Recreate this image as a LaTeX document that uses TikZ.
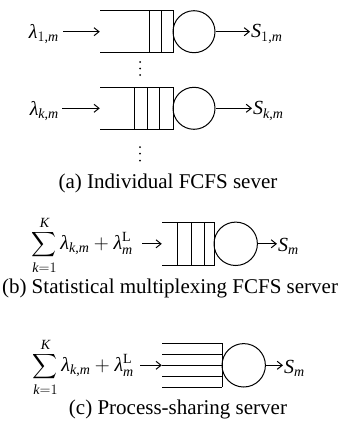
\documentclass[tikz,border=0pt]{standalone}
\usepackage{exscale}
\usepackage{fontspec}
\setmainfont{Liberation Serif}[NFSSFamily=libser]
\DeclareSymbolFont{tlet}{TU}{libser}{m}{it}
\DeclareSymbolFont{tup}{TU}{libser}{m}{n}
\DeclareMathAlphabet{\mathup}{TU}{libser}{m}{n}
\Umathcode`S=7 \symtlet `S\relax
\Umathcode`K=7 \symtlet `K\relax
\Umathcode`k=7 \symtlet `k\relax
\Umathcode`m=7 \symtlet `m\relax
\Umathcode`1=0 \symtup `1\relax
\Umathcode`,=6 \symtup `,\relax
\Umathcode`+=2 \symtup `+\relax
\Umathcode`\==3 \symtup `\=\relax
\Umathchardef\glam=0 \symtlet "03BB\relax
\newcommand\mysmallsum{\mathop{\hbox{\fontsize{17}{20}\selectfont$\displaystyle\sum$}}\limits}
\usetikzlibrary{arrows.meta}
\begin{document}
\begin{tikzpicture}[x=1pt,y=-1pt,
  ln/.style={line width=1pt},
  arr/.style={line width=1pt,-{Straight Barb[length=5pt,width=8pt]}},
  srv/.style={circle,draw,line width=1pt,inner sep=0pt,minimum size=#1},
  qbox/.style={inner sep=0pt,minimum width=#1},
  lbl/.style={inner sep=1pt,font=\fontsize{20}{24}\selectfont},
  captext/.style={inner sep=0pt,font=\fontsize{21}{25}\selectfont}]
\useasboundingbox (0,0) rectangle (344,423);
% ---- (a) first queue
\node[qbox=73pt,minimum height=42pt] (q1) at (136.5,31.7) {};
\draw[ln] (100,10.7) -- (173,10.7) -- (173,52.7) -- (100,52.7);
\draw[ln] (149,10.7) -- (149,52.7) (161,10.7) -- (161,52.7);
\node[srv=42pt] (c1) at (194,31.7) {};
\node[lbl,anchor=east] (l1) at (60,34) {$\glam_{1,m}$};
\node[lbl,anchor=west] (s1) at (250,34) {$S_{1,m}$};
\draw[arr] (l1.east |- q1) ++(3,0) -- (q1.west);
\draw[arr] (c1.east) -- (s1.west |- c1);
% dots
\foreach \y in {62,68.5,75} \fill (140,\y) circle (1pt);
% ---- (a) second queue
\node[qbox=73pt,minimum height=42pt] (q2) at (136.5,108.3) {};
\draw[ln] (100,87.3) -- (173,87.3) -- (173,129.3) -- (100,129.3);
\draw[ln] (134,87.3) -- (134,129.3) (147,87.3) -- (147,129.3) (159.5,87.3) -- (159.5,129.3);
\node[srv=42pt] (c2) at (194,108.3) {};
\node[lbl,anchor=east] (l2) at (60,111) {$\glam_{k,m}$};
\node[lbl,anchor=west] (s2) at (252,111) {$S_{k,m}$};
\draw[arr] (l2.east |- q2) ++(2,0) -- (q2.west);
\draw[arr] (c2.east) -- (s2.west |- c2);
\foreach \y in {147,153.5,160.5} \fill (140,\y) circle (1pt);
\node[captext] (capa) at (168,183) {(a) Individual FCFS sever};
% ---- (b)
\node[qbox=52pt,minimum height=43.7pt] (qb) at (188,243.8) {};
\draw[ln] (162,222) -- (214,222) -- (214,265.7) -- (162,265.7);
\draw[ln] (177,222) -- (177,265.7) (191,222) -- (191,265.7) (204,222) -- (204,265.7);
\node[srv=43.4pt] (cb) at (235.7,243.8) {};
\node[lbl,anchor=east] (lb) at (134,245) {$\mysmallsum_{k=1}^{K}\glam_{k,m}+\glam_m^{\mathup{L}}$};
\node[lbl,anchor=west] (sb) at (277,246) {$S_m$};
\draw[arr] (142,243.8) -- (qb.west);
\draw[arr] (cb.east) -- (sb.west |- cb);
\node[captext] (capb) at (170,288) {(b) Statistical multiplexing FCFS server};
% ---- (c)
\node[qbox=60pt,minimum height=44pt] (qc) at (192,365.3) {};
\foreach \y in {343.3,354.3,365.3,376.3,387.3} \draw[ln] (162,\y) -- (222,\y);
\draw[ln] (222,343.3) -- (222,387.3);
\node[srv=43.4pt] (cc) at (243.7,365.3) {};
\node[lbl,anchor=east] (lc) at (135,367) {$\mysmallsum_{k=1}^{K}\glam_{k,m}+\glam_m^{\mathup{L}}$};
\node[lbl,anchor=west] (sc) at (283,368) {$S_m$};
\draw[arr] (140,365.3) -- (qc.west);
\draw[arr] (cc.east) -- (sc.west |- cc);
\node[captext] (capc) at (178,409) {(c) Process-sharing server};
\end{tikzpicture}
\end{document}
